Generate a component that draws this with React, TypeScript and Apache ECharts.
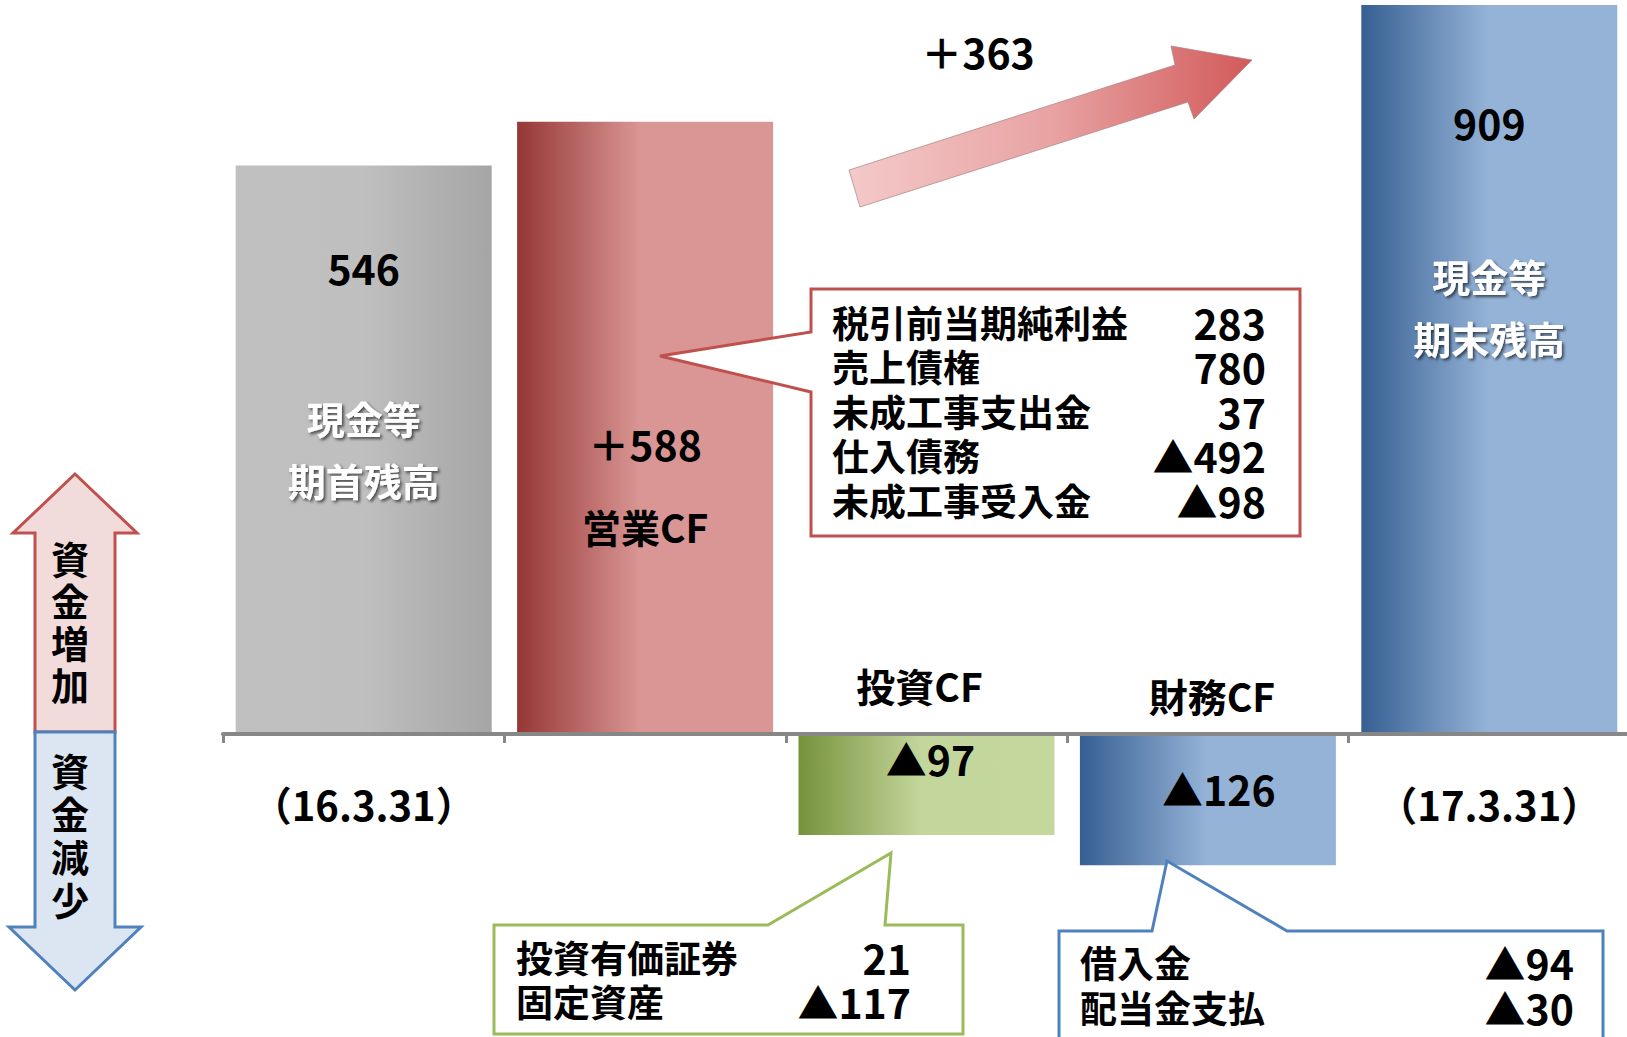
import React, { useEffect, useRef } from "react";
import * as echarts from "echarts";

// ---------- data ----------
const categories = ["（16.3.31）", "", "", "", "（17.3.31）"];
const barNames = ["現金等\n期首残高", "営業CF", "投資CF", "財務CF", "現金等\n期末残高"];
const barValues = [546, 588, -97, -126, 909];
const valueTexts = ["546", "＋588", "▲97", "▲126", "909"];

const opItems = ["税引前当期純利益", "売上債権", "未成工事支出金", "仕入債務", "未成工事受入金"];
const opValues = ["283", "780", "37", "▲492", "▲98"];
const invItems = ["投資有価証券", "固定資産"];
const invValues = ["21", "▲117"];
const finItems = ["借入金", "配当金支払"];
const finValues = ["▲94", "▲30"];
const sideUpText = "資金増加";
const sideDownText = "資金減少";

const yMin = -290;
const yMax = 700;

// ---------- styles ----------
const FONT = '"Noto Sans CJK JP", "Noto Sans", sans-serif';

const barGradients: [number, string][][] = [
  [[0, "#c0c0c0"], [0.5, "#bfbfbf"], [1, "#a5a5a5"]],
  [[0, "#953735"], [0.48, "#d99694"], [1, "#d99694"]],
  [[0, "#76923c"], [0.48, "#c3d69b"], [1, "#c4d79c"]],
  [[0, "#365f92"], [0.5, "#95b3d7"], [1, "#95b3d7"]],
  [[0, "#365f92"], [0.5, "#95b3d7"], [1, "#95b3d7"]],
];

const txtV = { fontSize: 41, fontWeight: "bold", color: "#000", fontFamily: FONT };
const txtB = { fontSize: 39, fontWeight: "bold", color: "#000", fontFamily: FONT };
const txtW = {
  fontSize: 38,
  fontWeight: "bold",
  color: "#ffffff",
  fontFamily: FONT,
  textShadowColor: "rgba(0,0,0,0.6)",
  textShadowBlur: 3,
  textShadowOffsetX: 2,
  textShadowOffsetY: 2,
};

function grad(stops: [number, string][]) {
  return new echarts.graphic.LinearGradient(
    0, 0, 1, 0,
    stops.map(([offset, color]) => ({ offset, color }))
  );
}

function labelFor(i: number) {
  const v = valueTexts[i];
  const names = barNames[i].split("\n");
  if (i === 0 || i === 4) {
    const h1 = i === 0 ? 238 : 244;
    return {
      show: true,
      position: "insideTop",
      distance: 0,
      offset: [0, i === 0 ? -17 : -5],
      formatter: `{v|${v}}\n{w|${names[0]}}\n{w|${names[1]}}`,
      rich: {
        v: { ...txtV, lineHeight: h1 },
        w: { ...txtW, lineHeight: 62 },
      },
    };
  }
  if (i === 1) {
    return {
      show: true,
      position: "inside",
      offset: [0, 57],
      formatter: `{v|${v}}\n{b|${names[0]}}`,
      rich: {
        v: { ...txtV, lineHeight: 83 },
        b: { ...txtB, lineHeight: 83 },
      },
    };
  }
  const lh = i === 2 ? 73 : 93;
  return {
    show: true,
    position: "insideTop",
    distance: 0,
    offset: [0, -85.5],
    formatter: `{b|${names[0]}}\n{v|${v}}`,
    rich: {
      v: { ...txtV, lineHeight: lh, padding: i === 2 ? [0, 0, 0, 8] : [0, 0, 0, 22] },
      b: { ...txtB, lineHeight: lh, padding: i === 2 ? [0, 14, 0, 0] : [0, 0, 0, 8] },
    },
  };
}

function textEl(text: string, x: number, y: number, align: string, size = 37, extra: any = {}) {
  return {
    type: "text",
    x,
    y,
    z: 20,
    style: {
      text,
      fill: "#000",
      fontSize: size,
      fontWeight: "bold",
      fontFamily: FONT,
      textAlign: align,
      textVerticalAlign: "middle",
      ...extra,
    },
  };
}

function tableTexts(items: string[], values: string[], xl: number, xr: number, ys: number[]) {
  const out: any[] = [];
  items.forEach((it, k) => {
    out.push(textEl(it, xl, ys[k], "left", 37, { lineHeight: 40 }));
    out.push(textEl(values[k], xr, ys[k], "right", 41, { lineHeight: 42 }));
  });
  return out;
}

export default function App() {
  const ref = useRef<HTMLDivElement>(null);
  useEffect(() => {
    const chart = echarts.init(ref.current!, null, { renderer: "svg" });

    const netChange = barValues[4] - barValues[0];

    const graphics: any[] = [
      // +363 arrow
      {
        type: "polygon",
        z: 10,
        shape: {
          points: [
            [849, 170], [1175, 65], [1171, 46], [1252, 60],
            [1194, 119], [1188, 102], [860, 207],
          ],
        },
        style: {
          fill: grad([[0, "#f4c9c9"], [0.5, "#e8a3a3"], [1, "#d25a5a"]]),
          stroke: "rgba(170,130,130,0.7)",
          lineWidth: 1,
        },
      },
      textEl(`＋${netChange}`, 978, 51, "center", 41),
      // operating CF callout
      {
        type: "polygon",
        z: 10,
        shape: {
          points: [
            [811, 289], [1300, 289], [1300, 536], [811, 536],
            [811, 392], [660, 356], [811, 332],
          ],
        },
        style: { fill: "#fff", stroke: "#c0504d", lineWidth: 3 },
      },
      ...tableTexts(opItems, opValues, 832, 1266, [322, 366, 411, 455, 500]),
      // investing CF callout
      {
        type: "polygon",
        z: 10,
        shape: {
          points: [
            [494, 925], [768, 925], [891, 853], [885, 925],
            [963, 925], [963, 1034], [494, 1034],
          ],
        },
        style: { fill: "#fff", stroke: "#9bbb59", lineWidth: 3 },
      },
      ...tableTexts(invItems, invValues, 516, 911, [957, 1001]),
      // financing CF callout
      {
        type: "polygon",
        z: 10,
        shape: {
          points: [
            [1059, 931], [1152, 931], [1167, 861], [1287, 931],
            [1603, 931], [1603, 1060], [1059, 1060],
          ],
        },
        style: { fill: "#fff", stroke: "#4f81bd", lineWidth: 3 },
      },
      ...tableTexts(finItems, finValues, 1080, 1574, [962, 1007]),
      // side arrows
      {
        type: "polygon",
        z: 10,
        shape: {
          points: [
            [75, 474], [137, 533], [115, 533], [115, 732],
            [35, 732], [35, 533], [13, 533],
          ],
        },
        style: { fill: "#f2dcdb", stroke: "#c0504d", lineWidth: 3 },
      },
      {
        type: "polygon",
        z: 11,
        shape: {
          points: [
            [35, 732], [115, 732], [115, 927], [141, 927],
            [75, 990], [9, 927], [35, 927],
          ],
        },
        style: { fill: "#dce6f2", stroke: "#4f81bd", lineWidth: 3 },
      },
      textEl(sideUpText.split("").join("\n"), 70, 620, "center", 38, { lineHeight: 42 }),
      textEl(sideDownText.split("").join("\n"), 70, 834, "center", 38, { lineHeight: 43 }),
    ];

    const option: any = {
      animation: false,
      backgroundColor: "#ffffff",
      grid: { left: 223, right: -3, top: 5, bottom: 1, containLabel: false, outerBoundsMode: "none" },
      xAxis: {
        type: "category",
        data: categories,
        z: 5,
        offset: 0,
        axisLine: { onZero: false, lineStyle: { color: "#878787", width: 4 } },
        axisTick: { show: true, length: 9, lineStyle: { color: "#878787", width: 3 } },
        axisLabel: {
          interval: 0,
          margin: 50,
          fontSize: 40,
          fontWeight: "bold",
          color: "#000",
          fontFamily: FONT,
        },
        splitLine: { show: false },
      },
      yAxis: {
        type: "value",
        min: yMin,
        max: yMax,
        show: false,
        splitLine: { show: false },
      },
      series: [
        {
          type: "bar",
          barWidth: 256,
          clip: true,
          z: 2,
          data: barValues.map((v, i) => ({
            value: v,
            itemStyle: { color: grad(barGradients[i]) },
            label: labelFor(i),
          })),
        },
      ],
      graphic: graphics,
    };

    chart.setOption(option);
    // place the category axis on the zero line of the value scale
    const zeroY = chart.convertToPixel({ yAxisIndex: 0 }, 0) as number;
    const minY = chart.convertToPixel({ yAxisIndex: 0 }, yMin) as number;
    chart.setOption({ xAxis: { offset: zeroY - minY } });
    return () => chart.dispose();
  }, []);

  return (
    <div
      ref={ref}
      style={{ position: "absolute", left: 0, top: 0, width: 1627, height: 1037, background: "#fff" }}
    />
  );
}
